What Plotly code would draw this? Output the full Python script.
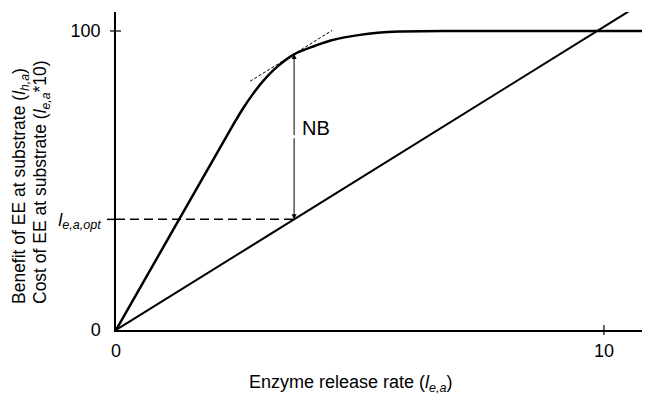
import plotly.graph_objects as go

# ---- data ----
benefit_x = [0, 1.2, 2.4, 2.6, 2.8, 3.0, 3.3, 3.65, 4.04, 4.4, 5.0, 5.8, 7.0, 10.8]
benefit_y = [0, 34.3, 68.6, 74.0, 78.8, 83.0, 88.0, 92.2, 94.8, 96.8, 98.7, 99.8, 100, 100]
cost_x = [0, 10.5]
cost_y = [0, 106.5]
opt_x = 3.65
opt_cost = 37.0
opt_benefit = 92.3
tangent_x = [2.75, 4.43]
tangent_y = [83.2, 100.2]
x_ticks = [0, 10]
x_ticktext = ["0", "10"]
y_ticks = [0, opt_cost, 100]
y_ticktext = ["0", "<i>l</i><sub><i>e,a,opt</i></sub>", "100"]

FONT = "Liberation Sans, Arial, sans-serif"
L, R, T, B = 116, 4, 12, 65
W = 646 - L - R
H = 395 - T - B
X_MAX = 10.78
Y_MAX = 106.35

fig = go.Figure()
fig.add_trace(go.Scatter(x=benefit_x, y=benefit_y, mode="lines",
                         line=dict(color="black", width=2.5, shape="spline", smoothing=0.7),
                         hoverinfo="skip"))
fig.add_trace(go.Scatter(x=cost_x, y=cost_y, mode="lines",
                         line=dict(color="black", width=2), hoverinfo="skip"))
fig.add_trace(go.Scatter(x=tangent_x, y=tangent_y, mode="lines",
                         line=dict(color="black", width=1, dash="3px,2px"), hoverinfo="skip"))
fig.add_trace(go.Scatter(x=[0, opt_x], y=[opt_cost, opt_cost], mode="lines",
                         line=dict(color="black", width=1.5, dash="9px,5px"), hoverinfo="skip"))

mid = (opt_cost + opt_benefit) / 2
annotations = []
for end in (opt_benefit, opt_cost):
    annotations.append(dict(x=opt_x, y=end, ax=opt_x, ay=mid, xref="x", yref="y",
                            axref="x", ayref="y", showarrow=True, arrowhead=2,
                            arrowsize=1, arrowwidth=1, arrowcolor="black", text=""))
annotations.append(dict(x=opt_x + 0.12, y=67.5, xref="x", yref="y", text="NB",
                        showarrow=False, xanchor="left", yanchor="middle",
                        font=dict(family=FONT, size=20, color="black")))
annotations.append(dict(x=(351 - L) / W, y=(330 - 383) / H, xref="paper", yref="paper",
                        text="Enzyme release rate (<i>l</i><sub><i>e,a</i></sub>)",
                        showarrow=False, xanchor="center", yanchor="middle",
                        font=dict(family=FONT, size=18, color="black")))
annotations.append(dict(x=(20 - L) / W, y=(330 - 306) / H, xref="paper", yref="paper",
                        text="Benefit of EE at substrate (<i>l</i><sub><i>h,a</i></sub>)",
                        showarrow=False, textangle=-90, xanchor="center", yanchor="bottom",
                        font=dict(family=FONT, size=17.5, color="black")))
annotations.append(dict(x=(41 - L) / W, y=(330 - 306) / H, xref="paper", yref="paper",
                        text="Cost of EE at substrate (<i>l</i><sub><i>e,a</i></sub>*10)",
                        showarrow=False, textangle=-90, xanchor="center", yanchor="bottom",
                        font=dict(family=FONT, size=17.5, color="black")))

shapes = [
    dict(type="line", xref="paper", yref="y", x0=-6 / W, x1=5 / W, y0=100, y1=100,
         line=dict(color="black", width=1.2)),
    dict(type="line", xref="paper", yref="y", x0=-9 / W, x1=0, y0=opt_cost, y1=opt_cost,
         line=dict(color="black", width=1.5)),
    dict(type="line", xref="x", yref="paper", x0=10, x1=10, y0=-5 / H, y1=5 / H,
         line=dict(color="black", width=1.2)),
]

fig.update_layout(
    width=646, height=395,
    margin=dict(l=L, r=R, t=T, b=B),
    paper_bgcolor="white", plot_bgcolor="white",
    showlegend=False,
    font=dict(family=FONT, size=18, color="black"),
    annotations=annotations, shapes=shapes,
    xaxis=dict(range=[0, X_MAX], showgrid=False, zeroline=False, showline=True,
               linecolor="black", linewidth=1.5, tickmode="array", tickvals=x_ticks,
               ticktext=x_ticktext, ticks="", ticklabelstandoff=4,
               tickfont=dict(family=FONT, size=18, color="black")),
    yaxis=dict(range=[0, Y_MAX], showgrid=False, zeroline=False, showline=True,
               linecolor="black", linewidth=1.5, tickmode="array", tickvals=y_ticks,
               ticktext=y_ticktext, ticks="", ticklabelstandoff=10,
               tickfont=dict(family=FONT, size=18, color="black")),
)

fig.write_html("out.html")
